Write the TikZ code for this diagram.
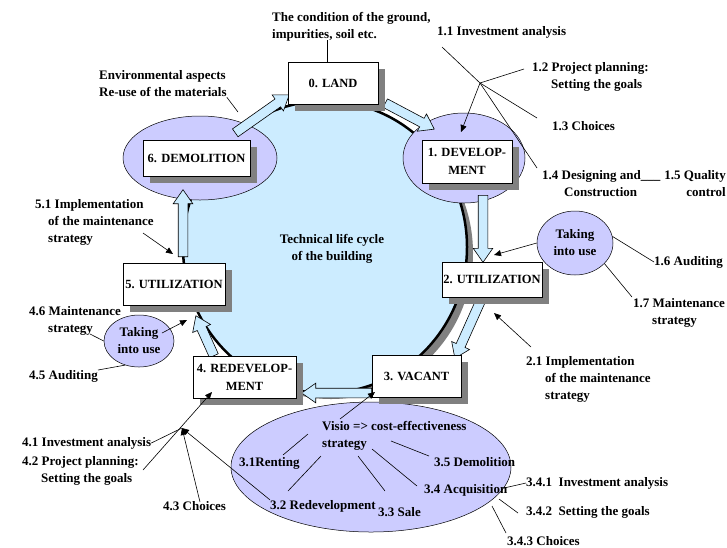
\documentclass[tikz,border=0pt]{standalone}
\usepackage{fontspec}
\setmainfont{Liberation Serif}
\usetikzlibrary{arrows.meta,shapes.geometric,shapes.arrows,shadows,calc}

\definecolor{cycleblue}{RGB}{204,236,255}
\definecolor{phaselilac}{RGB}{204,204,255}
\definecolor{shadowgray}{RGB}{128,128,128}

\newcommand{\lbl}{\bfseries\fontsize{13}{17}\selectfont}
\newcommand{\ind}{\hspace*{19pt}}

\tikzset{
  stage/.style={draw, fill=white, line width=0.8pt, align=center, inner sep=1pt,
    font=\bfseries\fontsize{12.5}{18}\selectfont,
    drop shadow={shadow xshift=7pt, shadow yshift=-7pt, fill=shadowgray, opacity=1}},
  phase/.style={ellipse, draw, fill=phaselilac, line width=0.5pt, inner sep=0pt},
  note/.style={font=\lbl, inner sep=0pt, align=left, anchor=west},
  lead/.style={line width=0.6pt},
  ptr/.style={line width=0.6pt, -{Triangle[length=7pt,width=6pt]}},
  cyclearrow/.style={single arrow, draw, fill=cycleblue, line width=0.6pt, inner sep=4.5pt,
    single arrow head extend=5pt, single arrow tip angle=70}
}

% block arrow from #1 to #2
\newcommand{\cyclearrow}[2]{%
  \path let \p1=($(#2)-(#1)$), \n1={atan2(\y1,\x1)}, \n2={veclen(\x1,\y1)} in
    (#1) node[cyclearrow, anchor=tail, rotate=\n1, minimum height=\n2] {};}

\begin{document}
\begin{tikzpicture}[x=1pt,y=-1pt]
\useasboundingbox (0,0) rectangle (727,547);

% the cycle
\node[ellipse, draw, fill=cycleblue, line width=2.5pt, minimum width=284pt, minimum height=292pt,
  drop shadow={shadow xshift=6pt, shadow yshift=-6pt, fill=shadowgray, opacity=1}] (life) at (325,247) {};
\node[font=\lbl, align=center, inner sep=0pt] (lifetxt) at (332,249) {Technical life cycle\\of the building};

\node[phase, minimum width=154pt, minimum height=84pt] (demolE) at (200,158) {};
\node[phase, minimum width=122pt, minimum height=90pt] (develE) at (464,158) {};
\node[phase, minimum width=280pt, minimum height=130pt] (options) at (371,467) {};
\node[phase, minimum width=76pt, minimum height=64pt, font=\lbl, align=center] (tuR) at (575,243) {Taking\\into use};
\node[phase, minimum width=70pt, minimum height=52pt, font=\lbl, align=center] (tuL) at (139,341) {Taking\\into use};

% block arrows between the stages
\foreach \n/\p in {a60/{235,133}, b60/{289,95}, a01/{385,103}, b01/{434,129},
    a12/{483,195}, b12/{483,262}, a23/{481,300}, b23/{455,358}, a34/{372,393}, b34/{302,393},
    a45/{214,356}, b45/{196,316}, a56/{183,257}, b56/{183,190}}
  \coordinate (\n) at (\p);
\cyclearrow{a60}{b60}
\cyclearrow{a01}{b01}
\cyclearrow{a12}{b12}
\cyclearrow{a23}{b23}
\cyclearrow{a34}{b34}
\cyclearrow{a45}{b45}
\cyclearrow{a56}{b56}

% stages
\node[stage, minimum width=90pt, minimum height=42pt] (land) at (333,83) {0. LAND};
\node[stage, minimum width=90pt, minimum height=43pt] (devel) at (467,161.5) {1. DEVELOP-\\MENT};
\node[stage, minimum width=100pt, minimum height=35pt] (util2) at (492,279.5) {2. UTILIZATION};
\node[stage, minimum width=89pt, minimum height=42pt] (vacant) at (416.5,376) {3. VACANT};
\node[stage, minimum width=103pt, minimum height=42pt] (redev) at (244.5,377) {4. REDEVELOP-\\MENT};
\node[stage, minimum width=102pt, minimum height=42pt] (util5) at (174,284) {5. UTILIZATION};
\node[stage, minimum width=107pt, minimum height=36pt] (demol) at (196.5,158) {6. DEMOLITION};

% notes
\node[note] (cond) at (272,26.5) {The condition of the ground,\\impurities, soil etc.};
\node[note] (env) at (99,84) {Environmental aspects\\Re-use of the materials};
\node[note] (n11) at (437,32) {1.1 Investment analysis};
\node[note] (n12) at (532,77) {1.2 Project planning:\\\ind Setting the goals};
\node[note] (n13) at (552,126) {1.3 Choices};
\node[note] (n14) at (542,183.5) {1.4 Designing and\_\_\_\\\hspace*{22pt}Construction};
\node[note, anchor=east, align=right] (n15) at (726,183.5) {1.5 Quality\\control};
\node[note] (n16) at (654,262) {1.6 Auditing};
\node[note] (n17) at (633,312.5) {1.7 Maintenance\\\ind strategy};
\node[note] (n21) at (526,379) {2.1 Implementation\\\ind of the maintenance\\\ind strategy};
\node[note] (n51) at (35,222) {5.1 Implementation\\\hspace*{13pt}of the maintenance\\\hspace*{13pt}strategy};
\node[note] (n46) at (29,321) {4.6 Maintenance\\\ind strategy};
\node[note] (n45) at (29,376) {4.5 Auditing};
\node[note] (n41) at (22,443) {4.1 Investment analysis};
\node[note] (n42) at (22,471) {4.2 Project planning:\\\ind Setting the goals};
\node[note] (n43) at (163,506) {4.3 Choices};
\node[note] (visio) at (322,435.5) {Visio => cost-effectiveness\\strategy};
\node[note] (n31) at (239,463) {3.1Renting};
\node[note] (n32) at (270,506) {3.2 Redevelopment};
\node[note] (n33) at (378,512) {3.3 Sale};
\node[note] (n34) at (424,490) {3.4 Acquisition};
\node[note] (n35) at (434,462) {3.5 Demolition};
\node[note] (n341) at (526,483) {3.4.1\ \ Investment analysis};
\node[note] (n342) at (526,512) {3.4.2\ \ Setting the goals};
\node[note] (n343) at (507,541) {3.4.3 Choices};

% leaders
\coordinate (hubA) at (480,83);
\coordinate (hubB) at (182,428);
\foreach \n/\p in {c0/{327,40}, envB/{238,112}, p11/{442,47}, p12/{524,69}, p13/{537,118},
    p14/{537,168}, p1d/{461,132}, p2u/{494,255}, p17/{632,297}, p21/{531,347}, p2d/{494,313},
    p51/{143,233}, p5u/{173,254}, p46/{90,334}, p4t/{162,333}, p5d/{187,320}, p45/{98,370},
    p42/{143,470}, p4r/{212,392}, p43/{200,502}, pv/{340,419}, pvac/{375,392},
    v31/{308,434}, w31/{283,455}, v32/{321,456}, w32/{288,491}, v33/{358,456}, w33/{385,491},
    v34/{372,449}, w34/{417,486}, v35/{391,441}, w35/{429,456},
    s341/{504,488}, s342/{499,499}, t342/{518,513}, s343/{492,506}, t343/{506,533}}
  \coordinate (\n) at (\p);

\draw[lead] (c0) -- (c0 |- land.north);
\draw[lead] (env.south east) -- (envB);
\draw[lead] (p11) -- (hubA);
\draw[lead] (hubA) -- (p12);
\draw[lead] (hubA) -- (p13);
\draw[lead] (hubA) -- (p14);
\draw[ptr] (hubA) -- (p1d);
\draw[ptr] (tuR.west) -- (p2u);
\draw[lead] (tuR.10) -- (n16.west);
\draw[lead] (tuR.-35) -- (p17);
\draw[ptr] (p21) -- (p2d);
\draw[ptr] (p51) -- (p5u);
\draw[lead] (p46) -- (tuL.west);
\draw[ptr] (p4t) -- (p5d);
\draw[lead] (p45) -- (tuL.-120);
\draw[lead] (n41.east) -- (hubB);
\draw[ptr] (p42) -- (p4r);
\draw[ptr] (p43) -- (hubB);
\draw[ptr] (n32.north west) -- (hubB);
\draw[ptr] (pv) -- (pvac);
\foreach \i in {31,32,33,34,35}
  \draw[lead] (v\i) -- (w\i);
\draw[lead] (s341) -- (n341.west);
\draw[lead] (s342) -- (t342);
\draw[lead] (s343) -- (t343);
\end{tikzpicture}
\end{document}
